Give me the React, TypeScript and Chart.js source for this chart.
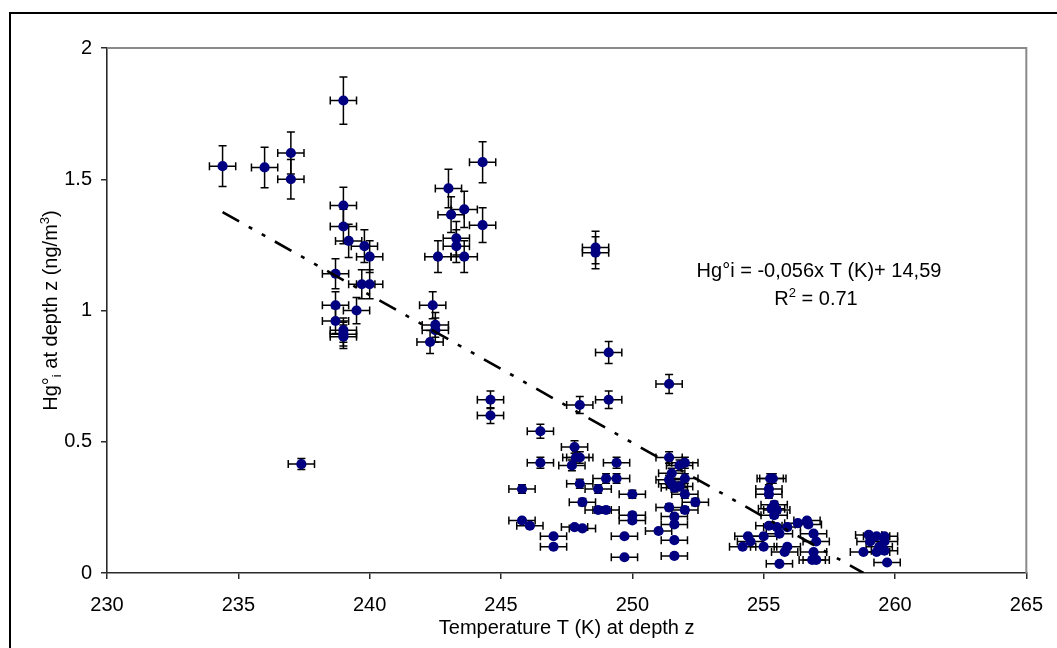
import React, { useEffect, useRef } from "react";
import { Chart, registerables } from "chart.js";

Chart.register(...registerables);

// ---- data ----
const tempK = [
  234.4, 236.0, 237.0, 237.0, 239.0, 239.0, 239.0, 239.2, 239.8, 240.0,
  238.7, 239.7, 240.0, 238.7, 239.5, 238.7, 239.0, 239.0, 239.0, 237.4,
  243.0, 243.1, 243.6, 244.3, 244.3, 243.3, 243.3, 242.6, 243.6, 242.4,
  242.5, 242.5, 242.3, 248.6, 248.6, 249.1, 251.4, 249.1, 244.6, 244.6,
  248.0, 246.5, 246.5, 247.8, 247.85, 248.0, 247.7, 249.4, 245.8, 248.0,
  249.0, 249.4, 248.7, 250.0, 248.1, 248.7, 249.0, 250.0, 250.0, 245.8,
  246.1, 247.8, 248.1, 247.0, 247.0, 249.7, 249.7, 251.0, 251.4, 252.0,
  251.8, 251.5, 252.0, 251.4, 251.5, 251.6, 251.8, 252.0, 252.4, 251.4,
  252.0, 251.6, 251.6, 251.6, 251.6, 255.25, 255.35, 255.2, 255.2, 255.4,
  255.3, 255.5, 255.4, 255.2, 255.5, 255.9, 255.6, 256.3, 256.65, 256.7,
  256.9, 257.0, 255.9, 255.8, 255.6, 256.9, 256.85, 257.0, 254.4, 254.5,
  254.2, 255.0, 255.0, 259.0, 259.3, 259.6, 259.05, 259.6, 258.8, 259.3,
  259.6, 259.7, 259.4,
];
const hgConc = [
  1.55, 1.545, 1.6, 1.5, 1.8, 1.4, 1.32, 1.265, 1.245, 1.205,
  1.14, 1.1, 1.1, 1.02, 1.0, 0.96, 0.925, 0.91, 0.9, 0.415,
  1.465, 1.365, 1.385, 1.565, 1.325, 1.275, 1.245, 1.205, 1.205, 1.02,
  0.945, 0.925, 0.88, 1.24, 1.22, 0.84, 0.72, 0.66, 0.66, 0.6,
  0.64, 0.54, 0.42, 0.48, 0.44, 0.44, 0.41, 0.42, 0.32, 0.34,
  0.36, 0.36, 0.32, 0.3, 0.27, 0.24, 0.24, 0.22, 0.2, 0.2,
  0.18, 0.175, 0.17, 0.14, 0.1, 0.14, 0.06, 0.16, 0.44, 0.42,
  0.41, 0.38, 0.36, 0.355, 0.34, 0.325, 0.33, 0.3, 0.27, 0.25,
  0.24, 0.215, 0.185, 0.125, 0.065, 0.36, 0.36, 0.32, 0.3, 0.26,
  0.245, 0.24, 0.22, 0.18, 0.175, 0.175, 0.15, 0.19, 0.2, 0.185,
  0.15, 0.12, 0.1, 0.08, 0.035, 0.08, 0.05, 0.05, 0.14, 0.12,
  0.1, 0.14, 0.1, 0.145, 0.14, 0.14, 0.12, 0.12, 0.08, 0.08,
  0.085, 0.04, 0.1,
];
const tempErrK = 0.5; // ± K
const hgRelErr = 0.05; // ± 5 %
const trendT = [234.4, 258.8];
const trendHg = [1.375, 0.0];
const xTickValues = [230, 235, 240, 245, 250, 255, 260, 265];
const yTickValues = [0, 0.5, 1, 1.5, 2];
const equationText = "Hg°i = -0,056x T (K)+ 14,59";
const r2Label = "R";
const r2Sup = "2";
const r2Value = " = 0.71";
const xTitle = "Temperature T (K) at depth z";
const yTitleParts: [string, "n" | "sub" | "sup"][] = [
  ["Hg°", "n"],
  ["i", "sub"],
  [" at depth z (ng/m", "n"],
  ["3", "sup"],
  [")", "n"],
];

const FONT = '"Liberation Sans", Arial, sans-serif';

const errorBarPlugin = {
  id: "errorBars",
  beforeDatasetsDraw(chart: any) {
    const ctx = chart.ctx;
    const xs = chart.scales.x;
    const ys = chart.scales.y;
    ctx.save();
    ctx.strokeStyle = "#000";
    ctx.lineWidth = 1.5;
    const cap = 4;
    for (let i = 0; i < tempK.length; i++) {
      const t = tempK[i];
      const h = hgConc[i];
      const px = xs.getPixelForValue(t);
      const py = ys.getPixelForValue(h);
      const x0 = xs.getPixelForValue(t - tempErrK);
      const x1 = xs.getPixelForValue(t + tempErrK);
      const y0 = ys.getPixelForValue(h * (1 - hgRelErr));
      const y1 = ys.getPixelForValue(h * (1 + hgRelErr));
      ctx.beginPath();
      ctx.moveTo(x0, py);
      ctx.lineTo(x1, py);
      ctx.moveTo(x0, py - cap);
      ctx.lineTo(x0, py + cap);
      ctx.moveTo(x1, py - cap);
      ctx.lineTo(x1, py + cap);
      ctx.moveTo(px, y0);
      ctx.lineTo(px, y1);
      ctx.moveTo(px - cap, y0);
      ctx.lineTo(px + cap, y0);
      ctx.moveTo(px - cap, y1);
      ctx.lineTo(px + cap, y1);
      ctx.stroke();
    }
    ctx.restore();
  },
};

const decorPlugin = {
  id: "decor",
  afterDraw(chart: any) {
    const ctx = chart.ctx;
    const ca = chart.chartArea;
    const W = chart.width;
    const H = chart.height;
    ctx.save();
    // outer frame
    ctx.strokeStyle = "#000";
    ctx.lineWidth = 2;
    ctx.beginPath();
    ctx.moveTo(10, H + 5);
    ctx.lineTo(10, 13);
    ctx.lineTo(W + 5, 13);
    ctx.stroke();
    // plot area top / right border
    ctx.strokeStyle = "#8a8a8a";
    ctx.lineWidth = 2;
    ctx.beginPath();
    ctx.moveTo(ca.left, ca.top);
    ctx.lineTo(ca.right, ca.top);
    ctx.lineTo(ca.right, ca.bottom);
    ctx.stroke();

    ctx.fillStyle = "#000";
    // equation
    ctx.font = `20px ${FONT}`;
    ctx.textAlign = "center";
    ctx.textBaseline = "alphabetic";
    ctx.fillText(equationText, 819, 277);
    // R^2 line
    ctx.textAlign = "left";
    ctx.font = `20px ${FONT}`;
    const wR = ctx.measureText(r2Label).width;
    const wV = ctx.measureText(r2Value).width;
    ctx.font = `13px ${FONT}`;
    const wS = ctx.measureText(r2Sup).width;
    const total = wR + wS + wV;
    let x = 816 - total / 2;
    ctx.font = `20px ${FONT}`;
    ctx.fillText(r2Label, x, 305);
    x += wR;
    ctx.font = `13px ${FONT}`;
    ctx.fillText(r2Sup, x, 297);
    x += wS;
    ctx.font = `20px ${FONT}`;
    ctx.fillText(r2Value, x, 305);

    // x title
    ctx.font = `20px ${FONT}`;
    ctx.textAlign = "center";
    ctx.fillText(xTitle, (ca.left + ca.right) / 2, 634);

    // y title (rotated)
    const sizes = { n: 20, sub: 13, sup: 13 };
    const offs = { n: 0, sub: 4, sup: -8 };
    let tw = 0;
    const widths: number[] = [];
    for (const [s, k] of yTitleParts) {
      ctx.font = `${sizes[k]}px ${FONT}`;
      const w = ctx.measureText(s).width;
      widths.push(w);
      tw += w;
    }
    ctx.translate(57, (ca.top + ca.bottom) / 2);
    ctx.rotate(-Math.PI / 2);
    ctx.textAlign = "left";
    let cx = -tw / 2;
    yTitleParts.forEach(([s, k], i) => {
      ctx.font = `${sizes[k]}px ${FONT}`;
      ctx.fillText(s, cx, offs[k]);
      cx += widths[i];
    });
    ctx.restore();
  },
};

export default function App() {
  const canvasRef = useRef<HTMLCanvasElement | null>(null);

  useEffect(() => {
    const canvas = canvasRef.current;
    if (!canvas) return;
    const points = tempK.map((t, i) => ({ x: t, y: hgConc[i] }));
    const trend = trendT.map((t, i) => ({ x: t, y: trendHg[i] }));
    const axisColor = "#2a2a2a";
    const chart = new Chart(canvas, {
      type: "scatter",
      data: {
        datasets: [
          {
            type: "scatter",
            data: points,
            pointRadius: 5.1,
            pointBorderWidth: 0,
            pointBackgroundColor: "#000080",
            pointBorderColor: "#000080",
            order: 2,
          } as any,
          {
            type: "line",
            data: trend,
            showLine: true,
            pointRadius: 0,
            borderColor: "#000",
            borderWidth: 2.6,
            borderDash: [19, 11, 4, 11, 4, 11],
            fill: false,
            order: 1,
          } as any,
        ],
      },
      options: {
        animation: false,
        responsive: false,
        events: [],
        layout: { padding: { top: 48, right: 25, left: 0, bottom: 0 } },
        plugins: {
          legend: { display: false },
          tooltip: { enabled: false },
          title: { display: false },
        },
        scales: {
          x: {
            type: "linear",
            min: 230,
            max: 265,
            afterFit: (s: any) => {
              s.height = 75;
            },
            afterBuildTicks: (s: any) => {
              s.ticks = xTickValues.map((v) => ({ value: v }));
            },
            ticks: {
              color: "#000",
              font: { family: FONT, size: 20 },
              padding: 14,
              maxRotation: 0,
              autoSkip: false,
              callback: (v: any) => String(v),
            },
            grid: {
              display: true,
              drawOnChartArea: false,
              drawTicks: true,
              tickLength: 6,
              color: axisColor,
              lineWidth: 1.5,
            },
            border: { display: true, color: axisColor, width: 1.6 },
          },
          y: {
            type: "linear",
            min: 0,
            max: 2,
            afterFit: (s: any) => {
              s.width = 107;
            },
            afterBuildTicks: (s: any) => {
              s.ticks = yTickValues.map((v) => ({ value: v }));
            },
            ticks: {
              color: "#000",
              font: { family: FONT, size: 20 },
              padding: 9,
              autoSkip: false,
              callback: (v: any) => String(v),
            },
            grid: {
              display: true,
              drawOnChartArea: false,
              drawTicks: true,
              tickLength: 6,
              color: axisColor,
              lineWidth: 1.5,
            },
            border: { display: true, color: axisColor, width: 1.6 },
          },
        },
      } as any,
      plugins: [errorBarPlugin, decorPlugin],
    });
    return () => chart.destroy();
  }, []);

  return (
    <div
      style={{
        position: "absolute",
        left: 0,
        top: 0,
        width: 1057,
        height: 648,
        overflow: "hidden",
        background: "#fff",
      }}
    >
      <canvas
        ref={canvasRef}
        width={1057}
        height={648}
        style={{ width: 1057, height: 648, display: "block" }}
      />
    </div>
  );
}
